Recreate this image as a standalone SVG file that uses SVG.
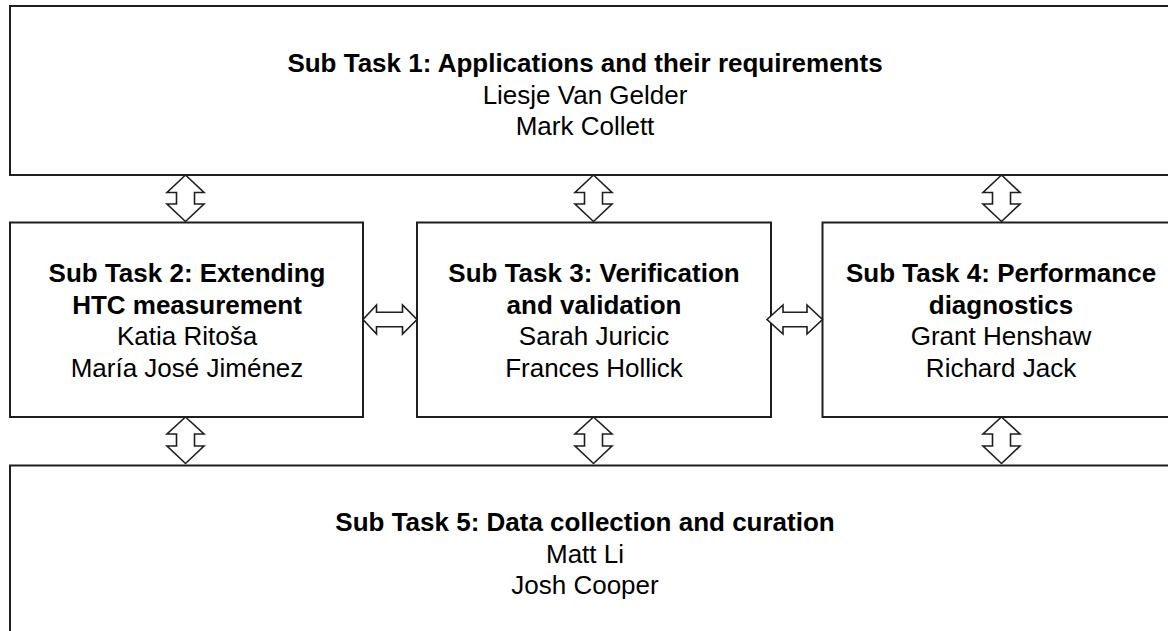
<svg xmlns="http://www.w3.org/2000/svg" width="1168" height="631" viewBox="0 0 1168 631">
<style>
.box{fill:#fff;stroke:#1e1e1e;stroke-width:2}
.arr{fill:#fff;stroke:#1e1e1e;stroke-width:1.6;stroke-linejoin:miter}
text{font-family:"Liberation Sans",Arial,sans-serif;font-size:26px;fill:#000;text-anchor:middle}
.b{font-weight:bold}
</style>
<rect width="1168" height="631" fill="#fff"/>
<g id="st1">
<rect class="box" x="10" y="6" width="1180" height="169"/>
<text class="b" x="585" y="72">Sub Task 1: Applications and their requirements</text>
<text x="585" y="103.7">Liesje Van Gelder</text>
<text x="585" y="135.4">Mark Collett</text>
</g>
<g id="st2">
<rect class="box" x="10" y="222.5" width="353" height="194.5"/>
<text class="b" x="187" y="282">Sub Task 2: Extending</text>
<text class="b" x="187" y="313.7">HTC measurement</text>
<text x="187" y="345.4">Katia Ritoša</text>
<text x="187" y="377">María José Jiménez</text>
</g>
<g id="st3">
<rect class="box" x="417" y="222.5" width="354" height="194.5"/>
<text class="b" x="594" y="282">Sub Task 3: Verification</text>
<text class="b" x="594" y="313.7">and validation</text>
<text x="594" y="345.4">Sarah Juricic</text>
<text x="594" y="377">Frances Hollick</text>
</g>
<g id="st4">
<rect class="box" x="822.5" y="222.5" width="400" height="194.5"/>
<text class="b" x="1001" y="282">Sub Task 4: Performance</text>
<text class="b" x="1001" y="313.7">diagnostics</text>
<text x="1001" y="345.4">Grant Henshaw</text>
<text x="1001" y="377">Richard Jack</text>
</g>
<g id="st5">
<rect class="box" x="10" y="465.5" width="1180" height="200"/>
<text class="b" x="585" y="531">Sub Task 5: Data collection and curation</text>
<text x="585" y="562.7">Matt Li</text>
<text x="585" y="594.4">Josh Cooper</text>
</g>
<g id="connectors">
<path class="arr" d="M185.5,175 L204,192.5 L194.5,192.5 L194.5,204 L204,204 L185.5,221.5 L167,204 L176.5,204 L176.5,192.5 L167,192.5 Z"/>
<path class="arr" d="M593.5,175 L612,192.5 L602.5,192.5 L602.5,204 L612,204 L593.5,221.5 L575,204 L584.5,204 L584.5,192.5 L575,192.5 Z"/>
<path class="arr" d="M1001.5,175 L1020,192.5 L1010.5,192.5 L1010.5,204 L1020,204 L1001.5,221.5 L983,204 L992.5,204 L992.5,192.5 L983,192.5 Z"/>
<path class="arr" d="M185.5,417 L204,434 L194.5,434 L194.5,446 L204,446 L185.5,463.5 L167,446 L176.5,446 L176.5,434 L167,434 Z"/>
<path class="arr" d="M593.5,417 L612,434 L602.5,434 L602.5,446 L612,446 L593.5,463.5 L575,446 L584.5,446 L584.5,434 L575,434 Z"/>
<path class="arr" d="M1001.5,417 L1020,434 L1010.5,434 L1010.5,446 L1020,446 L1001.5,463.5 L983,446 L992.5,446 L992.5,434 L983,434 Z"/>
<path class="arr" d="M363,319.5 L376.5,305 L376.5,312.3 L402.5,312.3 L402.5,305 L417,319.5 L402.5,334 L402.5,326.7 L376.5,326.7 L376.5,334 Z"/>
<path class="arr" d="M767,319.5 L783,305 L783,312.3 L807,312.3 L807,305 L822.5,319.5 L807,334 L807,326.7 L783,326.7 L783,334 Z"/>
</g>
</svg>
